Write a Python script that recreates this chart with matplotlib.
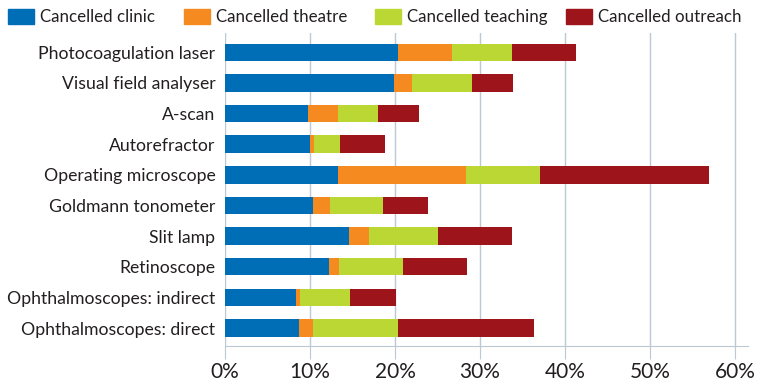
import matplotlib.pyplot as plt
from matplotlib.patches import Rectangle
import numpy as np

plt.rcParams['font.family'] = ['Lato', 'DejaVu Sans']

equipment = ['Photocoagulation laser', 'Visual field analyser', 'A-scan', 'Autorefractor',
             'Operating microscope', 'Goldmann tonometer', 'Slit lamp', 'Retinoscope',
             'Ophthalmoscopes: indirect', 'Ophthalmoscopes: direct']
series = ['Cancelled clinic', 'Cancelled theatre', 'Cancelled teaching', 'Cancelled outreach']
clinic   = [20.3, 19.9, 9.8, 10.0, 13.3, 10.4, 14.6, 12.2, 8.3, 8.7]
theatre  = [6.4, 2.1, 3.5, 0.5, 15.1, 1.9, 2.3, 1.2, 0.5, 1.7]
teaching = [7.1, 7.1, 4.7, 3.0, 8.7, 6.3, 8.2, 7.6, 5.9, 9.9]
outreach = [7.5, 4.8, 4.8, 5.3, 19.9, 5.3, 8.7, 7.5, 5.4, 16.1]
colors = ['#006DB7', '#F58A20', '#BAD733', '#9D141B']

grid_col = '#BCC8D2'
text_col = '#231F20'

W, H = 760, 386
fig = plt.figure(figsize=(W / 100, H / 100), dpi=100)
ax = fig.add_axes([225 / W, 1 - 345.5 / H, (747.7 - 225) / W, (345.5 - 33) / H])

y = np.arange(len(equipment))[::-1]
left = np.zeros(len(equipment))
for vals, col, name in zip([clinic, theatre, teaching, outreach], colors, series):
    ax.barh(y, vals, left=left, height=0.57, color=col, label=name, zorder=3)
    left += np.array(vals)

ax.set_xlim(0, 61.5)
ax.set_ylim(-0.571, 9.63)
ax.set_xticks(np.arange(0, 61, 10))
ax.set_xticklabels([f'{v}%' for v in range(0, 61, 10)])
ax.set_yticks(y)
ax.set_yticklabels(equipment)

ax.grid(axis='x', color=grid_col, linewidth=1, zorder=0)
for s in ['top', 'right', 'left']:
    ax.spines[s].set_visible(False)
ax.spines['bottom'].set_color(grid_col)
ax.tick_params(axis='x', length=9, color=grid_col, labelsize=15, labelcolor=text_col, pad=3)
ax.tick_params(axis='y', length=0, labelsize=12.7, labelcolor=text_col, pad=7)

# legend drawn by hand across the top
leg_x = [8, 184, 375, 566]
for x0, col, name in zip(leg_x, colors, series):
    fig.patches.append(Rectangle((x0 / W, 1 - 24 / H), 26 / W, 15 / H,
                                 transform=fig.transFigure, color=col))
    fig.text((x0 + 32) / W, 1 - 17 / H, name, fontsize=12.2, color=text_col,
             ha='left', va='center')

fig.savefig('out.png', dpi=100)
